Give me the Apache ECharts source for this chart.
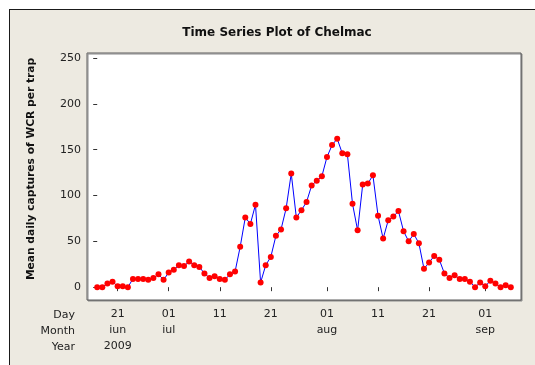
<!DOCTYPE html>
<html>
<head>
<meta charset="utf-8">
<script src="https://cdn.jsdelivr.net/npm/echarts@6/dist/echarts.min.js"></script>
<style>
  html, body { margin: 0; padding: 0; background: #ffffff; }
  #frame { position: absolute; left: 9px; top: 9px; width: 526px; height: 356px;
           background: #EDEAE1; border-left: 1px solid #1a1a1a; border-top: 1px solid #1a1a1a; }
  #chart { position: absolute; left: 0; top: 0; width: 535px; height: 365px; }
</style>
</head>
<body>
<div id="frame"></div>
<div id="chart"></div>
<script>
// Daily observations, 17 jun 2009 .. 6 sep 2009 (index 0 = 17 jun)
const captures = [
  0, 0, 4, 6, 1, 1, 0, 9, 9, 9,
  8, 10, 14, 8, 16, 19, 24, 23, 28, 24,
  22, 15, 10, 12, 9, 8, 14, 17, 44, 76,
  69, 90, 5, 24, 33, 56, 63, 86, 124, 76,
  84, 93, 111, 116, 121, 142, 155, 162, 146, 145,
  91, 62, 112, 113, 122, 78, 53, 73, 77, 83,
  61, 50, 58, 48, 20, 27, 34, 30, 15, 10,
  13, 9, 9, 6, 0, 5, 1, 7, 4, 0,
  2, 0
];
// Stamp ticks (index into captures) and their three label rows
const tickIndex   = [4, 14, 24, 34, 45, 55, 65, 76];
const dayLabels   = ['21', '01', '11', '21', '01', '11', '21', '01'];
const monthLabels = ['iun', 'iul', '', '', 'aug', '', '', 'sep'];
const yearLabels  = ['2009', '', '', '', '', '', '', ''];
const yTicks = [0, 50, 100, 150, 200, 250];

const titleText = 'Time Series Plot of Chelmac';
const yName = 'Mean daily captures of WCR per trap';

const seriesData = captures.map((v, i) => [i, v]);
const FONT = 'DejaVu Sans';

const chart = echarts.init(document.getElementById('chart'), null, { renderer: 'canvas' });
chart.setOption({
  backgroundColor: 'transparent',
  animation: false,
  grid: {
    left: 87, top: 53, width: 434, height: 247,
    show: true, backgroundColor: '#ffffff',
    borderColor: '#5a5a5a', borderWidth: 1,
    shadowColor: '#8a8a8a', shadowOffsetX: 1, shadowOffsetY: 1, shadowBlur: 0
  },
  xAxis: {
    type: 'value', min: -2, max: 83,
    splitLine: { show: false },
    axisLine: { show: false },
    axisTick: { show: true, inside: false, length: 4, lineStyle: { color: '#333' }, customValues: tickIndex },
    axisLabel: {
      customValues: tickIndex,
      margin: 6,
      color: '#222', fontFamily: FONT, fontSize: 11, lineHeight: 16,
      formatter: function (val) {
        const k = tickIndex.indexOf(Math.round(val));
        if (k < 0) return '';
        const rows = [dayLabels[k]];
        if (monthLabels[k] || yearLabels[k]) rows.push(monthLabels[k]);
        if (yearLabels[k]) rows.push(yearLabels[k]);
        return rows.join('\n');
      }
    }
  },
  yAxis: {
    type: 'value', min: -14, max: 255.5,
    splitLine: { show: false },
    axisLine: { show: false },
    axisTick: { show: true, inside: false, length: 4, lineStyle: { color: '#333' }, customValues: yTicks },
    axisLabel: { customValues: yTicks, margin: 6, color: '#222', fontFamily: FONT, fontSize: 11 }
  },
  graphic: [
    { type: 'text', x: 277, y: 33,
      style: { text: titleText, font: 'bold 12px "DejaVu Sans"', fill: '#111', align: 'center', verticalAlign: 'middle' } },
    { type: 'text', x: 31, y: 169, rotation: Math.PI / 2,
      style: { text: yName, font: 'bold 10.7px "DejaVu Sans"', fill: '#111', align: 'center', verticalAlign: 'middle' } },
    { type: 'text', x: 75, y: 315, style: { text: 'Day', font: '11px "DejaVu Sans"', fill: '#222', align: 'right', verticalAlign: 'middle' } },
    { type: 'text', x: 75, y: 331, style: { text: 'Month', font: '11px "DejaVu Sans"', fill: '#222', align: 'right', verticalAlign: 'middle' } },
    { type: 'text', x: 75, y: 347, style: { text: 'Year', font: '11px "DejaVu Sans"', fill: '#222', align: 'right', verticalAlign: 'middle' } }
  ],
  series: [{
    type: 'line',
    data: seriesData,
    lineStyle: { color: '#0000ff', width: 1 },
    symbol: 'circle', symbolSize: 6,
    itemStyle: { color: '#ff0000', borderWidth: 0 },
    showAllSymbol: true
  }]
});
</script>
</body>
</html>
